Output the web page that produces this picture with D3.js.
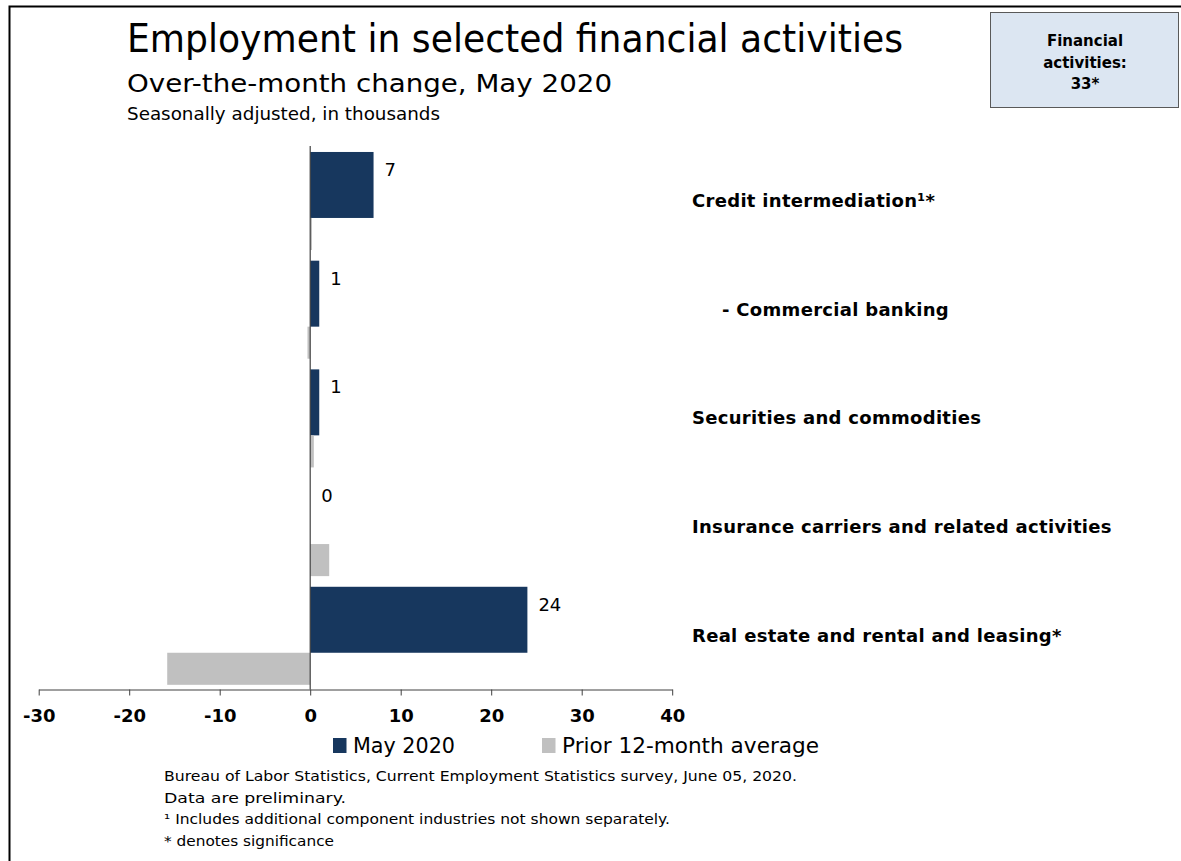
<!DOCTYPE html>
<html>
<head>
<meta charset="utf-8">
<script src="https://cdn.jsdelivr.net/npm/d3@7"></script>
<style>
  html, body { margin: 0; padding: 0; background: #fff; }
  svg { display: block; }
  text { font-family: "DejaVu Sans", Verdana, sans-serif; fill: #000; }
</style>
</head>
<body>
<script>
// ---- data ----
const categories = [
  "Credit intermediation\u00b9*",
  "- Commercial banking",
  "Securities and commodities",
  "Insurance carriers and related activities",
  "Real estate and rental and leasing*"
];
const may2020 = [7, 1, 1, 0, 24];
const prior12 = [0.2, -0.3, 0.4, 2.1, -15.8];
const xTicks = [-30, -20, -10, 0, 10, 20, 30, 40];
const seriesNames = ["May 2020", "Prior 12-month average"];
const titleText = "Employment in selected financial activities";
const subtitleText = "Over-the-month change, May 2020";
const unitText = "Seasonally adjusted, in thousands";
const boxLines = ["Financial", "activities:", "33*"];
const footLines = [
  "Bureau of Labor Statistics, Current Employment Statistics survey, June 05, 2020.",
  "Data are preliminary.",
  "\u00b9 Includes additional component industries not shown separately.",
  "* denotes significance"
];

// ---- layout ----
const W = 1181, H = 861;
const NAVY = "#17375e", GRAY = "#c0c0c0", AXIS = "#404040";

const svg = d3.select("body").append("svg").attr("width", W).attr("height", H);

// outer frame (left & top)
svg.append("path")
  .attr("d", `M9.5,${H + 2} L9.5,6.5 L${W + 2},6.5`)
  .attr("fill", "none").attr("stroke", "#000").attr("stroke-width", 2);

// titles
svg.append("text").attr("x", 127).attr("y", 52).attr("font-size", 39)
  .attr("textLength", 776).attr("lengthAdjust", "spacingAndGlyphs").text(titleText);
svg.append("text").attr("x", 127).attr("y", 92).attr("font-size", 25)
  .attr("textLength", 485).attr("lengthAdjust", "spacingAndGlyphs").text(subtitleText);
svg.append("text").attr("x", 127).attr("y", 120).attr("font-size", 18)
  .attr("textLength", 313).attr("lengthAdjust", "spacingAndGlyphs").text(unitText);

// info box
svg.append("rect").attr("x", 990.5).attr("y", 12.5).attr("width", 188).attr("height", 95)
  .attr("fill", "#dce6f2").attr("stroke", "#595959").attr("stroke-width", 1);
svg.selectAll("text.box").data(boxLines).join("text").attr("class", "box")
  .attr("x", 1085).attr("y", (d, i) => 46 + i * 21.5)
  .attr("text-anchor", "middle").attr("font-size", 15).attr("font-weight", "bold")
  .text(d => d);

// scales
const x = d3.scaleLinear().domain([-30, 40]).range([38.7, 672.2]);
const y = d3.scaleBand().domain(categories).range([146, 689.5]).padding(0);
const bw = y.bandwidth();
const navyTop = c => y(c) + bw * 0.055;
const navyH = bw * 0.607;
const grayTop = c => navyTop(c) + navyH;
const grayH = bw * 0.295;

const rows = categories.map((c, i) => ({ c, may: may2020[i], prior: prior12[i] }));

// bars
svg.append("g").selectAll("rect").data(rows).join("rect")
  .attr("x", d => x(Math.min(0, d.may))).attr("y", d => navyTop(d.c))
  .attr("width", d => Math.abs(x(d.may) - x(0))).attr("height", navyH)
  .attr("fill", NAVY);
svg.append("g").selectAll("rect").data(rows).join("rect")
  .attr("x", d => x(Math.min(0, d.prior))).attr("y", d => grayTop(d.c))
  .attr("width", d => Math.abs(x(d.prior) - x(0))).attr("height", grayH)
  .attr("fill", GRAY);

// value labels
svg.append("g").selectAll("text").data(rows).join("text")
  .attr("x", d => x(Math.max(0, d.may)) + 11)
  .attr("y", d => navyTop(d.c) + 24)
  .attr("font-size", 18)
  .text(d => d.may);

// zero line
svg.append("line").attr("x1", x(0)).attr("x2", x(0)).attr("y1", 146).attr("y2", 689.5)
  .attr("stroke", AXIS).attr("stroke-width", 1.2);

// x axis
const gx = svg.append("g").attr("transform", "translate(0,689.5)")
  .call(d3.axisBottom(x).tickValues(xTicks).tickSize(6).tickSizeOuter(0).tickPadding(14)
    .tickFormat(d => String(d)));
gx.select(".domain").attr("stroke", AXIS);
gx.selectAll(".tick line").attr("stroke", AXIS);
gx.selectAll(".tick text").attr("font-size", 18).attr("font-weight", "bold")
  .attr("font-family", "'DejaVu Sans', Verdana, sans-serif").attr("fill", "#000");

// category labels
svg.append("g").selectAll("text").data(categories).join("text")
  .attr("x", d => d.startsWith("-") ? 722 : 692)
  .attr("y", d => y(d) + bw / 2 + 6.5)
  .attr("font-size", 18).attr("font-weight", "bold").attr("letter-spacing", 0.3)
  .text(d => d);

// legend
const legX = [333, 542];
const leg = svg.append("g").selectAll("g").data(seriesNames).join("g")
  .attr("transform", (d, i) => `translate(${legX[i]},738)`);
leg.append("rect").attr("width", 13.5).attr("height", 15).attr("fill", (d, i) => i ? GRAY : NAVY);
leg.append("text").attr("x", 20).attr("y", 15).attr("font-size", 21)
  .attr("textLength", (d, i) => i ? 257 : 102).attr("lengthAdjust", "spacingAndGlyphs")
  .text(d => d);

// footnotes
const footW = [633, 182, 506, 170];
svg.append("g").selectAll("text").data(footLines).join("text")
  .attr("x", 164).attr("y", (d, i) => 781 + i * 21.5)
  .attr("font-size", 14.5)
  .attr("textLength", (d, i) => footW[i]).attr("lengthAdjust", "spacingAndGlyphs")
  .text(d => d);
</script>
</body>
</html>
